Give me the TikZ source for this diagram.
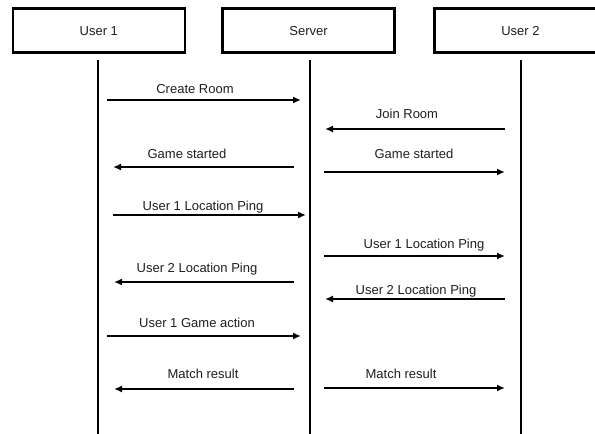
\documentclass[tikz,border=0pt]{standalone}
\usepackage{fontspec}
\setmainfont{Liberation Sans}
\usetikzlibrary{arrows.meta}
\definecolor{ink}{HTML}{1E1E1E}
\tikzset{
  actor/.style={draw=black, line width=2.6pt, fill=white, minimum width=172pt,
    minimum height=44pt, inner sep=0pt, font=\fontsize{13}{15}\selectfont, text=ink},
  lifeline/.style={draw=black, line width=2.1pt},
  msg/.style={draw=black, line width=1.6pt, -{Latex[length=8pt,width=7pt]}},
  msglabel/.style={anchor=base, inner sep=0pt, font=\fontsize{13}{15}\selectfont, text=ink}
}
\begin{document}
\begin{tikzpicture}[x=1pt, y=-1pt]
  \useasboundingbox (0,0) rectangle (595,434);

  % participants
  \node[actor] (u1) at (98.8,30.7) {User 1};
  \node[actor] (srv) at (308.5,30.7) {Server};
  \node[actor] (u2) at (520.5,30.7) {User 2};

  % lifelines
  \coordinate (u1top) at (98,60);   \coordinate (u1bot) at (98,436);
  \coordinate (srvtop) at (310,60); \coordinate (srvbot) at (310,436);
  \coordinate (u2top) at (521,60);  \coordinate (u2bot) at (521,436);
  \draw[lifeline] (u1top) -- (u1bot);
  \draw[lifeline] (srvtop) -- (srvbot);
  \draw[lifeline] (u2top) -- (u2bot);

  % message end points
  \coordinate (m1a) at (107,100);  \coordinate (m1b) at (301,100);
  \coordinate (m2a) at (505,129);  \coordinate (m2b) at (325,129);
  \coordinate (m3a) at (294,167);  \coordinate (m3b) at (113,167);
  \coordinate (m4a) at (324,172);  \coordinate (m4b) at (505,172);
  \coordinate (m5a) at (113,215);  \coordinate (m5b) at (306,215);
  \coordinate (m6a) at (324,256);  \coordinate (m6b) at (505,256);
  \coordinate (m7a) at (294,282);  \coordinate (m7b) at (114,282);
  \coordinate (m8a) at (505,299);  \coordinate (m8b) at (325,299);
  \coordinate (m9a) at (107,336);  \coordinate (m9b) at (301,336);
  \coordinate (m10a) at (294,389); \coordinate (m10b) at (114,389);
  \coordinate (m11a) at (324,388); \coordinate (m11b) at (505,388);

  % messages
  \draw[msg] (m1a) -- (m1b);
  \draw[msg] (m2a) -- (m2b);
  \draw[msg] (m3a) -- (m3b);
  \draw[msg] (m4a) -- (m4b);
  \draw[msg] (m5a) -- (m5b);
  \draw[msg] (m6a) -- (m6b);
  \draw[msg] (m7a) -- (m7b);
  \draw[msg] (m8a) -- (m8b);
  \draw[msg] (m9a) -- (m9b);
  \draw[msg] (m10a) -- (m10b);
  \draw[msg] (m11a) -- (m11b);

  % message labels
  \node[msglabel] (l1) at (195,93) {Create Room};
  \node[msglabel] (l2) at (407,118) {Join Room};
  \node[msglabel] (l3) at (187,158) {Game started};
  \node[msglabel] (l4) at (414,158) {Game started};
  \node[msglabel] (l5) at (203,210) {User 1 Location Ping};
  \node[msglabel] (l6) at (424,248) {User 1 Location Ping};
  \node[msglabel] (l7) at (197,272) {User 2 Location Ping};
  \node[msglabel] (l8) at (416,294) {User 2 Location Ping};
  \node[msglabel] (l9) at (197,327) {User 1 Game action};
  \node[msglabel] (l10) at (203,378) {Match result};
  \node[msglabel] (l11) at (401,378) {Match result};
\end{tikzpicture}
\end{document}
